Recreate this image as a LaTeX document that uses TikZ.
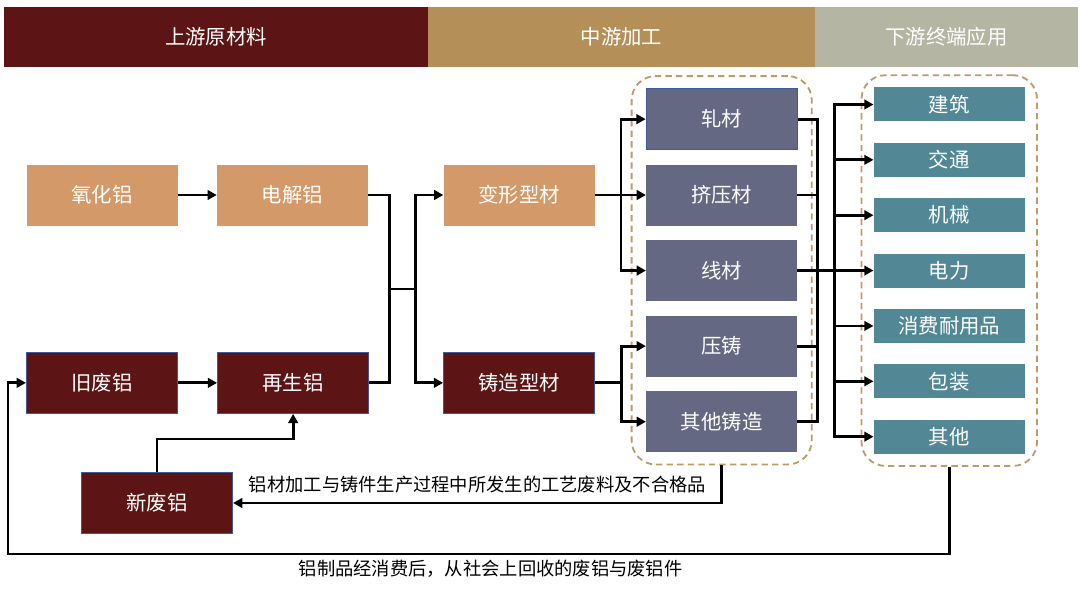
\documentclass[tikz,border=0pt]{standalone}
\usepackage{fontspec}
\usepackage{tikz}
\usetikzlibrary{arrows.meta, positioning, calc, fit}
\newfontfamily\cjk{Noto Sans CJK SC}
\definecolor{upred}{RGB}{92, 21, 20}
\definecolor{midtan}{RGB}{181, 143, 88}
\definecolor{downgray}{RGB}{181, 181, 163}
\definecolor{oretan}{RGB}{211, 153, 104}
\definecolor{procslate}{RGB}{100, 104, 130}
\definecolor{useteal}{RGB}{82, 136, 150}
\definecolor{edgeblue}{RGB}{65, 90, 150}
\definecolor{dashtan}{RGB}{190, 155, 105}
\tikzset{
    header/.style={rectangle, minimum height=1.5cm, text=white, font=\cjk\fontsize{14.5}{16}\selectfont, inner sep=0pt, outer sep=0pt},
    block/.style={rectangle, minimum width=3.775cm, minimum height=1.525cm, text=white, font=\cjk\fontsize{14.5}{16}\selectfont, inner sep=0pt},
    line/.style={draw, black, line width=2pt},
    arrow/.style={line, -{Triangle[length=2.3mm, width=2.4mm]}}
}

\begin{document}
\begin{tikzpicture}[
    ore/.style={block, fill=oretan},
    scrap/.style={block, fill=upred, draw=edgeblue, line width=0.8pt},
    process/.style={block, fill=procslate},
    enduse/.style={block, fill=useteal, minimum height=0.85cm},
    groupbox/.style={draw=dashtan, line width=1.3pt, dash pattern=on 4.5pt off 3pt, rounded corners=0.6cm},
    lbl/.style={font=\cjk\fontsize{13}{15}\selectfont, text=black}
]
    \useasboundingbox (0,0) rectangle (27,-14.9);

    % header bar
    \node[header, fill=upred, minimum width=10.6cm] (upstream) at (5.4,-0.925) {上游原材料};
    \node[header, fill=midtan, minimum width=9.675cm, right=0pt of upstream] (midstream) {中游加工};
    \node[header, fill=downgray, minimum width=6.575cm, right=0pt of midstream] (downstream) {下游终端应用};

    % upstream
    \node[ore] (yanghualv) at (2.55,-4.875) {氧化铝};
    \node[ore, right=0.975cm of yanghualv] (dianjielv) {电解铝};
    \node[scrap, below=3.15cm of yanghualv] (jiufeilv) {旧废铝};
    \node[scrap, right=0.975cm of jiufeilv] (zaishenglv) {再生铝};
    \node[scrap] (xinfeilv) at (3.925,-12.575) {新废铝};

    % midstream
    \node[ore, right=1.875cm of dianjielv] (bianxing) {变形型材};
    \node[scrap, below=3.15cm of bianxing] (zhuzao) {铸造型材};
    \node[process, right=1.275cm of bianxing] (jiyacai) {挤压材};
    \node[process, above=0.35cm of jiyacai, draw=edgeblue, line width=0.8pt] (zhacai) {轧材};
    \node[process, below=0.35cm of jiyacai] (xiancai) {线材};
    \node[process, below=0.35cm of xiancai] (yazhu) {压铸};
    \node[process, below=0.35cm of yazhu] (qitazhuzao) {其他铸造};

    % downstream
    \node[enduse, right=1.9cm of xiancai] (dianli) {电力};
    \node[enduse, above=0.52cm of dianli] (jixie) {机械};
    \node[enduse, above=0.52cm of jixie] (jiaotong) {交通};
    \node[enduse, above=0.52cm of jiaotong] (jianzhu) {建筑};
    \node[enduse, below=0.52cm of dianli] (xiaofei) {消费耐用品};
    \node[enduse, below=0.52cm of xiaofei] (baozhuang) {包装};
    \node[enduse, below=0.52cm of baozhuang] (qita) {其他};

    \node[groupbox, fit=(zhacai)(qitazhuzao), inner xsep=0.35cm, inner ysep=0.3cm] (procbox) {};
    \node[groupbox, fit=(jianzhu)(qita), inner xsep=0.3cm, inner ysep=0.3cm] (usebox) {};

    % connectors
    \draw[arrow] (yanghualv) -- (dianjielv);
    \draw[arrow] (jiufeilv) -- (zaishenglv);
    \coordinate (merge) at ($(dianjielv.east)!0.5!(zaishenglv.east)+(0.525,0)$);
    \coordinate (split) at ($(merge)+(0.65,0)$);
    \draw[line] (dianjielv.east) -| (merge) |- (zaishenglv.east);
    \draw[line] (merge) -- (split);
    \draw[arrow] (split) |- (bianxing.west);
    \draw[arrow] (split) |- (zhuzao.west);

    \coordinate (bx) at ($(bianxing.east)+(0.65,0)$);
    \coordinate (zx) at ($(zhuzao.east)+(0.65,0)$);
    \draw[line] (bianxing.east) -- (bx);
    \draw[line] (zhuzao.east) -- (zx);
    \foreach \n in {zhacai, jiyacai, xiancai}
        \draw[arrow] (bx) |- (\n.west);
    \foreach \n in {yazhu, qitazhuzao}
        \draw[arrow] (zx) |- (\n.west);

    \coordinate (gather) at ($(xiancai.east)+(0.5,0)$);
    \coordinate (spread) at ($(xiancai.east)+(0.925,0)$);
    \foreach \n in {zhacai, jiyacai, yazhu, qitazhuzao}
        \draw[line] (\n.east) -| (gather);
    \draw[line] (xiancai.east) -- (spread);
    \foreach \n in {jianzhu, jiaotong, jixie, dianli, xiaofei, baozhuang, qita}
        \draw[arrow] (spread) |- (\n.west);

    % recycling loops
    \draw[arrow] (xinfeilv.north) -- ++(0,0.825) -| (zaishenglv.south);
    \draw[arrow] (procbox.south) |- node[lbl, pos=0.75, above, yshift=0.1cm] {铝材加工与铸件生产过程中所发生的工艺废料及不合格品} (xinfeilv.east);
    \coordinate (loopcorner) at (0.2,-13.85);
    \draw[arrow] (usebox.south) |- node[lbl, pos=0.75, below, xshift=0.3cm] {铝制品经消费后，从社会上回收的废铝与废铝件} (loopcorner) |- (jiufeilv.west);

\end{tikzpicture}
\end{document}
